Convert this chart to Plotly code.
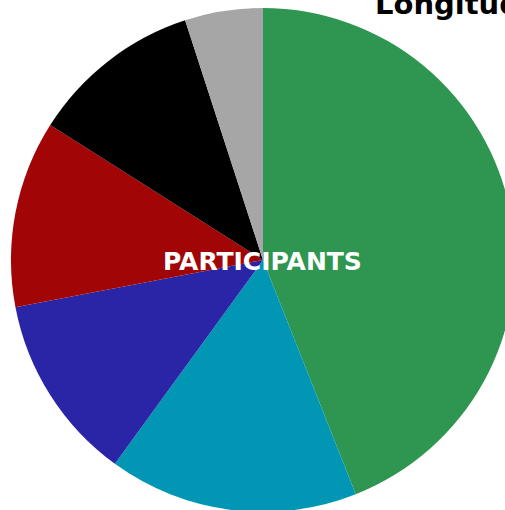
import plotly.graph_objects as go

labels = ["A", "B", "C", "D", "E", "F"]
values = [44, 16, 12, 12, 11, 5]
colors = ["#2E9650", "#0096B4", "#2A24A6", "#A10505", "#000000", "#A6A6A6"]
title_text = "Longitudinal"
center_text = "PARTICIPANTS"

W, H = 525, 512
cx, cy, r = 263, 260, 252

fig = go.Figure(go.Pie(
    labels=labels, values=values, sort=False, direction="clockwise", rotation=0,
    marker=dict(colors=colors, line=dict(width=0)), textinfo="none", showlegend=False,
    domain=dict(x=[(cx - r) / W, (cx + r) / W], y=[1 - (cy + r) / H, 1 - (cy - r) / H]),
))
fig.update_layout(
    width=W, height=H, margin=dict(l=0, r=0, t=0, b=0),
    paper_bgcolor="white",
    annotations=[
        dict(text=center_text, x=262.5 / W, y=1 - 261 / H, xref="paper", yref="paper",
             xanchor="center", yanchor="middle", showarrow=False,
             font=dict(family="DejaVu Sans", size=25, color="white", weight="bold")),
        dict(text=title_text, x=373 / W, y=1 - 4 / H, xref="paper", yref="paper",
             xanchor="left", yanchor="middle", showarrow=False,
             font=dict(family="DejaVu Sans", size=29, color="black", weight="bold")),
    ],
)
fig.write_html("out.html", config={"displayModeBar": False},
               post_script="document.body.style.margin='0';document.body.style.overflow='hidden';")
